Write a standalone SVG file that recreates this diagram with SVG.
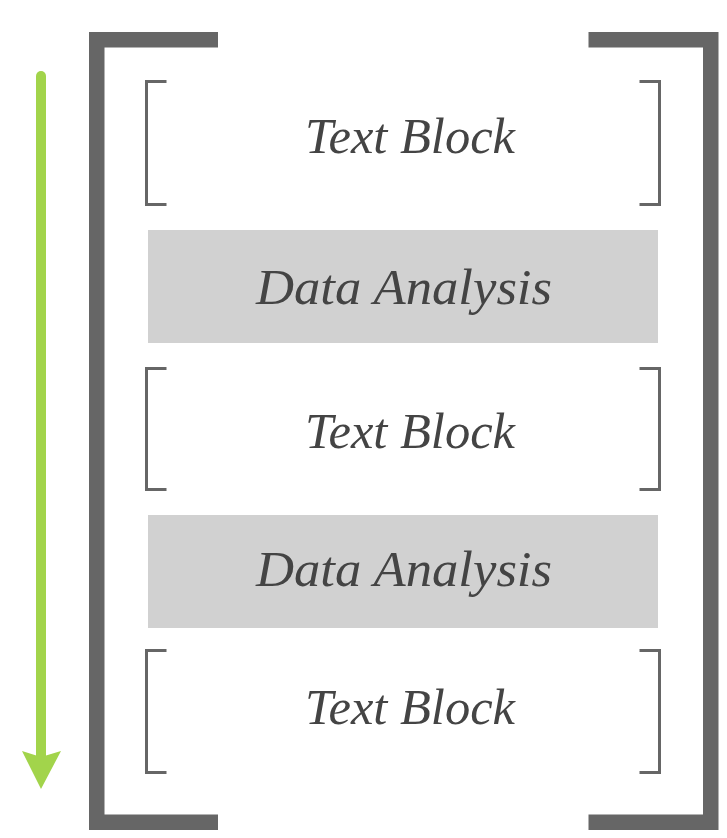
<svg xmlns="http://www.w3.org/2000/svg" width="727" height="838" viewBox="0 0 727 838">
<style>
.big{fill:#666666}
.sb{fill:none;stroke:#666666;stroke-width:3}
.box{fill:#d1d1d1}
.lbl{font-family:"Liberation Serif","DejaVu Serif",serif;font-style:italic;font-size:50px;fill:#444444;text-anchor:middle}
</style>
<rect width="727" height="838" fill="#ffffff"/>
<g id="frame-left">
<path class="big" d="M89 32H218V47.5H104.5V814.5H218V830H89Z"/>
</g>
<g id="frame-right">
<path class="big" d="M588.5 32H718.5V830H588.5V814.5H703V47.5H588.5Z"/>
</g>
<g id="connectors">
<line x1="41" y1="76" x2="41" y2="757" stroke="#a2d44b" stroke-width="10" stroke-linecap="round"/>
<path d="M22 751L41 757L61 751L41 789Z" fill="#a2d44b"/>
</g>
<g id="text-block-1">
<path class="sb" d="M166.5 81.5H146.5V204.5H166.5"/>
<path class="sb" d="M639.5 81.5H659.5V204.5H639.5"/>
<text class="lbl" x="410" y="153" textLength="210" lengthAdjust="spacingAndGlyphs">Text Block</text>
</g>
<g id="data-analysis-1">
<rect class="box" x="148" y="230" width="510" height="113"/>
<text class="lbl" x="404" y="304" textLength="296" lengthAdjust="spacingAndGlyphs">Data Analysis</text>
</g>
<g id="text-block-2">
<path class="sb" d="M166.5 368.5H146.5V489.5H166.5"/>
<path class="sb" d="M639.5 368.5H659.5V489.5H639.5"/>
<text class="lbl" x="410" y="448" textLength="210" lengthAdjust="spacingAndGlyphs">Text Block</text>
</g>
<g id="data-analysis-2">
<rect class="box" x="148" y="515" width="510" height="113"/>
<text class="lbl" x="404" y="586" textLength="296" lengthAdjust="spacingAndGlyphs">Data Analysis</text>
</g>
<g id="text-block-3">
<path class="sb" d="M166.5 650.5H146.5V772.5H166.5"/>
<path class="sb" d="M639.5 650.5H659.5V772.5H639.5"/>
<text class="lbl" x="410" y="724" textLength="210" lengthAdjust="spacingAndGlyphs">Text Block</text>
</g>
</svg>
